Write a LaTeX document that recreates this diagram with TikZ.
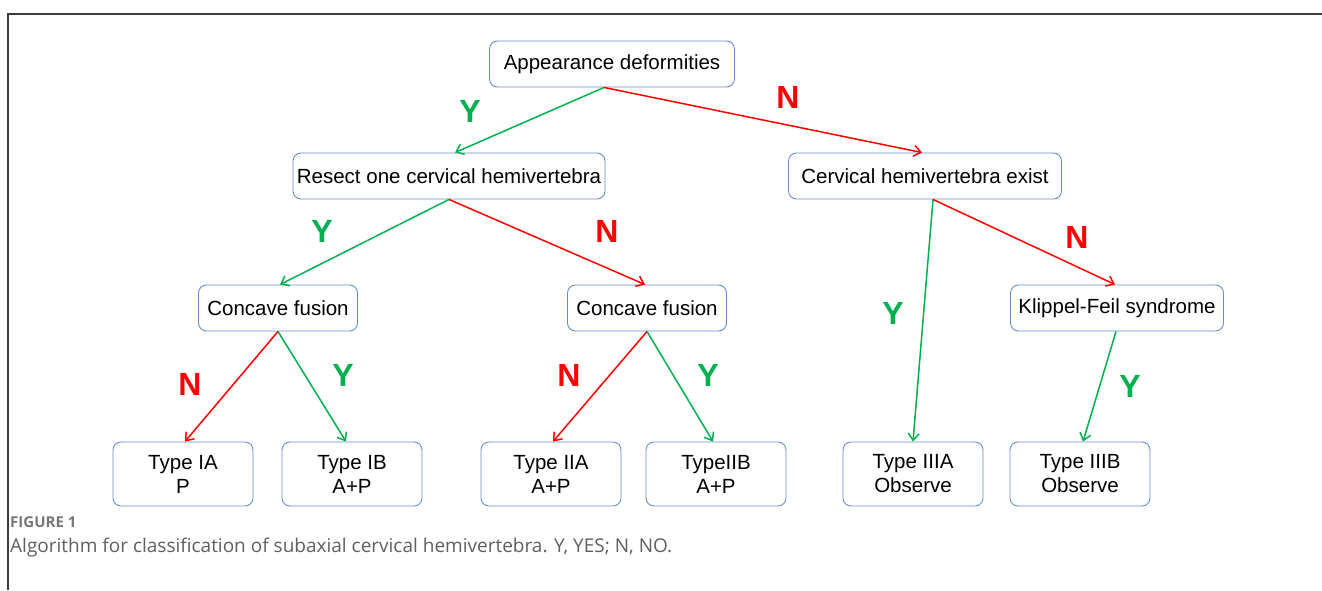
\documentclass[tikz,border=0pt]{standalone}
\usepackage{fontspec}
\setmainfont{Liberation Sans}
\newfontfamily\capfont{Open Sans}
\usetikzlibrary{arrows.meta,positioning,calc}
\definecolor{yesgreen}{RGB}{0,176,80}
\definecolor{nored}{RGB}{255,0,0}
\definecolor{boxblue}{RGB}{105,140,200}
\definecolor{framegray}{RGB}{60,60,60}
\definecolor{capgray}{RGB}{95,95,95}

\begin{document}
\begin{tikzpicture}[x=1pt,y=-1pt,>={Straight Barb[length=7pt,width=11pt]},
  every node/.style={font=\fontsize{20.5}{24}\selectfont,align=center},
  box/.style={draw=boxblue,line width=0.9pt,rounded corners=8pt,minimum height=46pt,inner sep=2pt},
  leaf/.style={box,minimum width=140pt,minimum height=64pt},
  yes/.style={->,line width=1.5pt,yesgreen},
  no/.style={->,line width=1.5pt,nored},
  ylab/.style={font=\fontsize{32}{32}\selectfont\bfseries,text=yesgreen},
  nlab/.style={font=\fontsize{32}{32}\selectfont\bfseries,text=nored}]
  \useasboundingbox (0,0) rectangle (1322,590);
  \draw[framegray,line width=1.4pt] (8,590) -- (8,14) -- (1322,14);

  % decision boxes
  \node[box,minimum width=245pt] (app) at (612,64) {Appearance deformities};
  \node[box,minimum width=312pt] (res) at (449,176) {Resect one cervical hemivertebra};
  \node[box,minimum width=273pt] (cer) at (925,176) {Cervical hemivertebra exist};
  \node[box,minimum width=159pt] (conA) at (278,308) {Concave fusion};
  \node[box,minimum width=159pt] (conB) at (647,308) {Concave fusion};
  \node[box,minimum width=213pt] (kfs) at (1117,308) {Klippel-Feil syndrome};

  % outcome boxes
  \node[leaf] (tIA) at (183,474) {Type IA\\P};
  \node[leaf] (tIB) at (352,474) {Type IB\\A+P};
  \node[leaf] (tIIA) at (551,474) {Type IIA\\A+P};
  \node[leaf] (tIIB) at (716,474) {TypeIIB\\A+P};
  \node[leaf] (tIIIA) at (913,474) {Type IIIA\\Observe};
  \node[leaf] (tIIIB) at (1080,474) {Type IIIB\\Observe};

  % connectors
  \draw[yes] ([xshift=-8pt]app.south) -- ([xshift=6pt]res.north);
  \draw[no] ([xshift=-8pt]app.south) -- ([xshift=-3pt]cer.north);
  \draw[yes] (res.south) -- ([xshift=2pt]conA.north);
  \draw[no] (res.south) -- ([xshift=-2pt]conB.north);
  \draw[no] (conA.south) -- ([xshift=2pt]tIA.north);
  \draw[yes] (conA.south) -- ([xshift=-6pt]tIB.north);
  \draw[no] (conB.south) -- ([xshift=2pt]tIIA.north);
  \draw[yes] (conB.south) -- ([xshift=-3pt]tIIB.north);
  \draw[yes] ([xshift=8pt]cer.south) -- (tIIIA.north);
  \draw[no] ([xshift=8pt]cer.south) -- ([xshift=-2pt]kfs.north);
  \draw[yes] ([xshift=-1pt]kfs.south) -- ([xshift=3pt]tIIIB.north);

  % Y / N labels
  \node[ylab] (yApp) at (470,111) {Y};
  \node[nlab] (nApp) at (788,97) {N};
  \node[ylab] (yRes) at (322,231) {Y};
  \node[nlab] (nRes) at (607,231) {N};
  \node[nlab] (nConA) at (190,384) {N};
  \node[ylab] (yConA) at (343,375) {Y};
  \node[nlab] (nConB) at (569,375) {N};
  \node[ylab] (yConB) at (708,375) {Y};
  \node[ylab] (yCer) at (893,313) {Y};
  \node[nlab] (nCer) at (1077,237) {N};
  \node[ylab] (yKfs) at (1130,386) {Y};

  % caption
  \node[anchor=west,font=\capfont\bfseries\fontsize{15}{15}\selectfont,text=capgray!85,inner sep=0pt] (fig) at (10,522) {FIGURE 1};
  \node[anchor=west,font=\capfont\fontsize{19}{19}\selectfont,text=capgray,inner sep=0pt] (cap) at (10,548) {Algorithm for classification of subaxial cervical hemivertebra. Y, YES; N, NO.};
\end{tikzpicture}
\end{document}
